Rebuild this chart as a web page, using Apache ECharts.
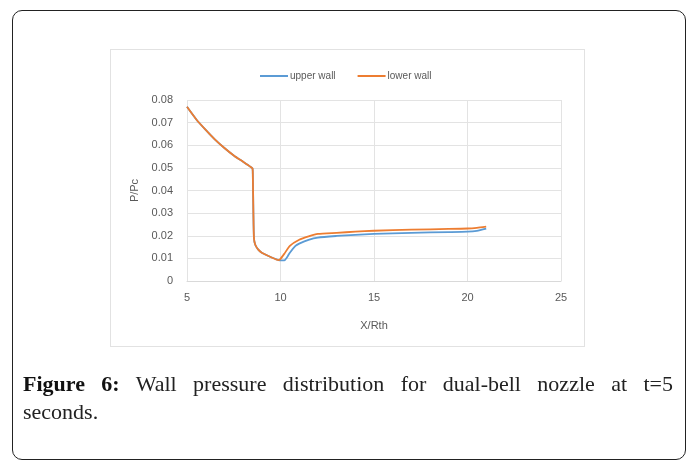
<!DOCTYPE html>
<html>
<head>
<meta charset="utf-8">
<script src="https://cdn.jsdelivr.net/npm/echarts@6/dist/echarts.min.js"></script>
<style>
html,body{margin:0;padding:0;background:#fff;width:687px;height:465px;overflow:hidden;}
#frame{position:absolute;left:12px;top:10px;width:674px;height:450px;border:1.6px solid #222;border-radius:10px;box-sizing:border-box;}
#inner{position:absolute;left:110px;top:49px;width:475px;height:298px;border:1px solid #e2e2e2;box-sizing:border-box;}
#chart{position:absolute;left:0;top:0;width:687px;height:465px;}
.cap{position:absolute;left:23px;width:650px;font-family:"Liberation Serif","Times New Roman",serif;font-size:22px;line-height:28px;color:#222;white-space:nowrap;}
#cap1{top:370px;text-align:justify;text-align-last:justify;white-space:normal;}
#cap2{top:398px;}
.cap b{font-weight:bold;color:#111;}
</style>
</head>
<body>
<div id="frame"></div>
<div id="inner"></div>
<div id="chart"></div>
<div class="cap" id="cap1"><b>Figure 6:</b> Wall pressure distribution for dual-bell nozzle at t=5</div>
<div class="cap" id="cap2">seconds.</div>
<script>
// Data
const seriesNames = ['upper wall', 'lower wall'];
const xCommon = [5.0, 5.5, 6.0, 6.5, 7.0, 7.5, 8.0, 8.3, 8.5, 8.52, 8.55, 8.58, 8.65, 8.8, 9.0, 9.5, 9.9];
const yCommon = [0.0770, 0.0714, 0.0668, 0.0625, 0.0588, 0.0555, 0.0527, 0.0510, 0.0498, 0.0470, 0.0300, 0.0190, 0.0160, 0.0140, 0.0125, 0.0105, 0.0092];
const xUpperTail = [10.0, 10.2, 10.35, 10.5, 10.8, 11.0, 11.5, 12.0, 13.0, 14.0, 15.0, 17.0, 19.0, 20.0, 20.5, 21.0];
const yUpperTail = [0.0091, 0.0091, 0.0105, 0.0125, 0.0155, 0.0165, 0.0182, 0.0192, 0.0199, 0.0204, 0.0208, 0.0213, 0.0216, 0.0218, 0.0222, 0.0232];
const xLowerTail = [10.0, 10.2, 10.5, 11.0, 11.5, 12.0, 13.0, 14.0, 15.0, 17.0, 19.0, 20.0, 20.5, 21.0];
const yLowerTail = [0.0098, 0.0120, 0.0155, 0.0182, 0.0197, 0.0208, 0.0213, 0.0218, 0.0222, 0.0227, 0.0230, 0.0232, 0.0235, 0.0240];
const xTicks = [5, 10, 15, 20, 25];
const yTicks = [0, 0.01, 0.02, 0.03, 0.04, 0.05, 0.06, 0.07, 0.08];

function pairs(xs, ys) { return xs.map((x, i) => [x, ys[i]]); }
const upperData = pairs(xCommon, yCommon).concat(pairs(xUpperTail, yUpperTail));
const lowerData = pairs(xCommon, yCommon).concat(pairs(xLowerTail, yLowerTail));

const chart = echarts.init(document.getElementById('chart'), null, {renderer: 'canvas'});
const labelFont = {fontFamily: 'Liberation Sans, Arial, sans-serif', fontSize: 11, color: '#595959'};
chart.setOption({
  animation: false,
  backgroundColor: 'transparent',
  legend: {
    left: 255, top: 66,
    itemWidth: 28, itemHeight: 2, itemGap: 22,
    icon: 'rect',
    textStyle: Object.assign({}, labelFont, {fontSize: 10, padding: [0, 0, 0, -3]}),
    data: seriesNames
  },
  grid: {left: 187, right: 126, top: 100, bottom: 184, containLabel: false},
  xAxis: {
    type: 'value', min: xTicks[0], max: xTicks[xTicks.length - 1], interval: 5,
    name: 'X/Rth', nameLocation: 'middle', nameGap: 39,
    nameTextStyle: labelFont,
    axisLine: {lineStyle: {color: '#d9d9d9', width: 1}},
    axisTick: {show: false},
    axisLabel: Object.assign({}, labelFont, {margin: 11}),
    splitLine: {show: true, lineStyle: {color: '#e3e3e3', width: 1}}
  },
  yAxis: {
    type: 'value', min: yTicks[0], max: yTicks[yTicks.length - 1], interval: 0.01,
    name: 'P/Pc', nameLocation: 'middle', nameGap: 44,
    nameTextStyle: labelFont,
    axisLine: {show: false},
    axisTick: {show: false},
    axisLabel: Object.assign({}, labelFont, {margin: 14, formatter: v => v === 0 ? '0' : v.toFixed(2)}),
    splitLine: {show: true, lineStyle: {color: '#e3e3e3', width: 1}}
  },
  series: [
    {name: seriesNames[0], type: 'line', data: upperData, showSymbol: false, smooth: 0.2,
     lineStyle: {color: '#5b9bd5', width: 1.8}, itemStyle: {color: '#5b9bd5'}},
    {name: seriesNames[1], type: 'line', data: lowerData, showSymbol: false, smooth: 0.2,
     lineStyle: {color: '#ed7d31', width: 1.8}, itemStyle: {color: '#ed7d31'}}
  ]
});
</script>
</body>
</html>
